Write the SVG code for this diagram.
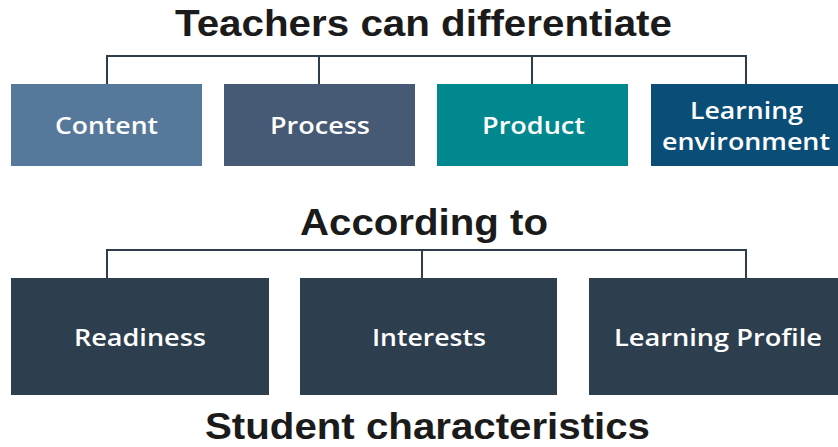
<svg xmlns="http://www.w3.org/2000/svg" width="838" height="447" viewBox="0 0 838 447">
<style>
.h{font-family:"Liberation Sans",Arial,sans-serif;font-weight:700;font-size:37px;fill:#1b1b1b;text-anchor:middle}
.t{font-family:"Open Sans","Liberation Sans",sans-serif;font-weight:600;font-size:24px;fill:#ffffff;text-anchor:middle}
.c{fill:none;stroke:#2e3d4c;stroke-width:2}
</style>
<rect width="838" height="447" fill="#ffffff"/>
<text class="h" x="423.5" y="36" textLength="497" lengthAdjust="spacingAndGlyphs">Teachers can differentiate</text>
<text class="h" x="424" y="235" textLength="248" lengthAdjust="spacingAndGlyphs">According to</text>
<text class="h" x="427.5" y="439" textLength="445" lengthAdjust="spacingAndGlyphs">Student characteristics</text>
<g id="connectors">
<path class="c" d="M107,84V56H746V84M319,56V84M532,56V84"/>
<path class="c" d="M107,278V250H746V278M422,250V278"/>
</g>
<g id="content"><rect x="11" y="84" width="191" height="82" fill="#56799b"/><text class="t" x="106.5" y="134" textLength="103" lengthAdjust="spacingAndGlyphs">Content</text></g>
<g id="process"><rect x="224" y="84" width="191" height="82" fill="#465a75"/><text class="t" x="320" y="134" textLength="100" lengthAdjust="spacingAndGlyphs">Process</text></g>
<g id="product"><rect x="437" y="84" width="191" height="82" fill="#00888f"/><text class="t" x="533.5" y="134" textLength="103" lengthAdjust="spacingAndGlyphs">Product</text></g>
<g id="learning-environment"><rect x="651" y="84" width="192" height="82" fill="#0a4e78"/><text class="t" x="746.5" y="119" textLength="113" lengthAdjust="spacingAndGlyphs">Learning</text><text class="t" x="746" y="150" textLength="168" lengthAdjust="spacingAndGlyphs">environment</text></g>
<g id="readiness"><rect x="11" y="278" width="258" height="117" fill="#2d3e4f"/><text class="t" x="140" y="346" textLength="132" lengthAdjust="spacingAndGlyphs">Readiness</text></g>
<g id="interests"><rect x="300" y="278" width="257" height="117" fill="#2d3e4f"/><text class="t" x="429" y="346" textLength="114" lengthAdjust="spacingAndGlyphs">Interests</text></g>
<g id="learning-profile"><rect x="589" y="278" width="254" height="117" fill="#2d3e4f"/><text class="t" x="718" y="346" textLength="208" lengthAdjust="spacingAndGlyphs">Learning Profile</text></g>
</svg>
